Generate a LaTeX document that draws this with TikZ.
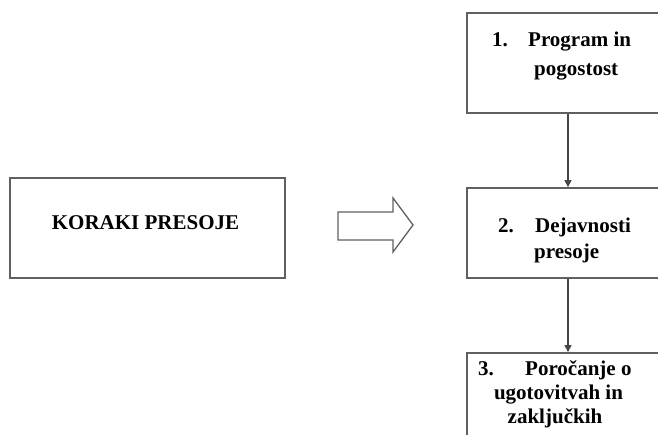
\documentclass[tikz,border=0pt]{standalone}
\usepackage{fontspec}
\setmainfont{Liberation Serif}
\usetikzlibrary{arrows.meta}
\definecolor{edge}{HTML}{606060}
\definecolor{link}{HTML}{454545}
\begin{document}
\begin{tikzpicture}[x=1pt,y=-1pt,
  stepbox/.style={draw=edge,line width=1.8pt,fill=white,rectangle,inner sep=0pt},
  lbl/.style={font=\bfseries\fontsize{21}{25}\selectfont,inner sep=0pt,text=black,anchor=base west},
  flow/.style={draw=link,line width=1.1pt,-{Triangle[length=7pt,width=7pt]}}]
\useasboundingbox (0,0) rectangle (658,435);
\clip (0,0) rectangle (658,435);

% left title box
\node[stepbox,minimum width=275pt,minimum height=100pt] (koraki) at (147.5,228) {};
\node[lbl,anchor=base] (kt) at (145.5,230) {KORAKI PRESOJE};

% hollow block arrow
\draw[draw=edge,line width=1.3pt,fill=white,line join=miter]
  (338,212) -- (393,212) -- (393,198) -- (413,225) -- (393,252) -- (393,240) -- (338,240) -- cycle;

% step boxes on the right
\node[stepbox,minimum width=202pt,minimum height=100pt] (b1) at (568,63) {};
\node[stepbox,minimum width=202pt,minimum height=90pt] (b2) at (568,233) {};
\node[stepbox,minimum width=202pt,minimum height=100pt] (b3) at (568,403) {};

% connectors
\draw[flow] (b1) -- (b2);
\draw[flow] (b2) -- (b3);

% step 1
\node[lbl] (n1) at (492,47) {1.};
\node[lbl] (t1a) at (528,47) {Program in};
\node[lbl] (t1b) at (534,76) {pogostost};

% step 2
\node[lbl] (n2) at (498,233) {2.};
\node[lbl] (t2a) at (535,233) {Dejavnosti};
\node[lbl] (t2b) at (534,259) {presoje};

% step 3
\node[lbl] (n3) at (478,375) {3.};
\node[lbl] (t3a) at (525,375) {Poročanje o};
\node[lbl,anchor=base] (t3b) at (558.5,399) {ugotovitvah in};
\node[lbl,anchor=base] (t3c) at (555,423) {zaključkih};
\end{tikzpicture}
\end{document}
